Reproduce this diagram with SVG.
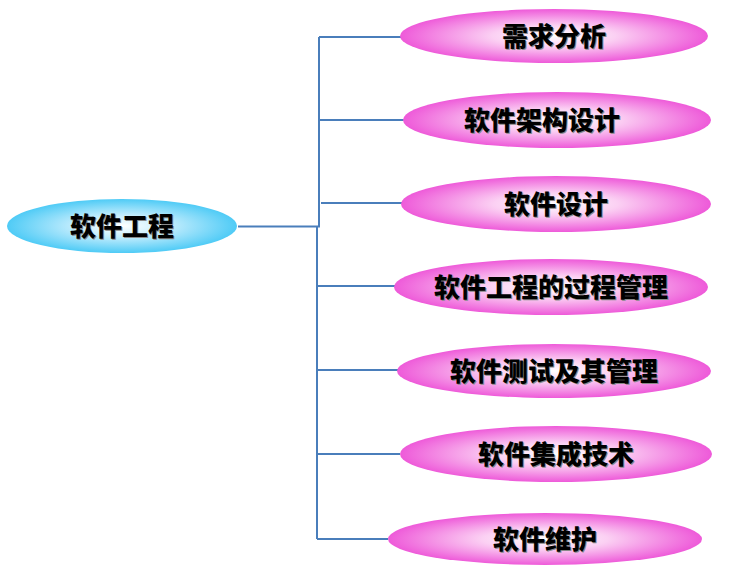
<svg xmlns="http://www.w3.org/2000/svg" width="753" height="571" viewBox="0 0 753 571">
<defs>
<radialGradient id="gp" cx="50%" cy="50%" r="50%">
<stop offset="0" stop-color="#ffffff"/>
<stop offset="0.4" stop-color="#fbd0f3"/>
<stop offset="1" stop-color="#ee5ad9"/>
</radialGradient>
<radialGradient id="gc" cx="50%" cy="50%" r="50%">
<stop offset="0" stop-color="#ffffff"/>
<stop offset="0.4" stop-color="#c4edfd"/>
<stop offset="1" stop-color="#4fcbf6"/>
</radialGradient>
<style>
.p{fill:url(#gp)}
.c{fill:url(#gc)}
.t,.s{font-family:"Noto Sans CJK SC","Noto Sans CJK JP",sans-serif;font-weight:900;font-size:26px;text-anchor:middle;dominant-baseline:central}
.t{fill:#000}
.s{fill:#8a8a8a}
.l{stroke:#4a7ebb;stroke-width:2;fill:none}
</style>
</defs>
<g id="connectors">
<path class="l" d="M238 226.5 H320"/>
<path class="l" d="M319 37 V226"/>
<path class="l" d="M317 227 V539" stroke-width="2.5"/>
<path class="l" d="M319 37 H402"/>
<path class="l" d="M319 120 H404"/>
<path class="l" d="M321 203 H402"/>
<path class="l" d="M317 286 H395"/>
<path class="l" d="M317 370 H398"/>
<path class="l" d="M317 454 H400"/>
<path class="l" d="M317 539 H388"/>
</g>
<g id="root">
<ellipse class="c" cx="122" cy="226" rx="115" ry="27"/>
<text class="s" x="123" y="225">软件工程</text>
<text class="t" x="122" y="224">软件工程</text>
</g>
<g id="n1">
<ellipse class="p" cx="554" cy="36" rx="154" ry="27"/>
<text class="s" x="555" y="35">需求分析</text>
<text class="t" x="554" y="34">需求分析</text>
</g>
<g id="n2">
<ellipse class="p" cx="557" cy="120" rx="154" ry="28"/>
<text class="s" x="543" y="119">软件架构设计</text>
<text class="t" x="542" y="118">软件架构设计</text>
</g>
<g id="n3">
<ellipse class="p" cx="556" cy="204" rx="155" ry="28"/>
<text class="s" x="557" y="203">软件设计</text>
<text class="t" x="556" y="202">软件设计</text>
</g>
<g id="n4">
<ellipse class="p" cx="551" cy="287" rx="157" ry="28"/>
<text class="s" x="552" y="286">软件工程的过程管理</text>
<text class="t" x="551" y="285">软件工程的过程管理</text>
</g>
<g id="n5">
<ellipse class="p" cx="554" cy="371" rx="157" ry="27"/>
<text class="s" x="555" y="370">软件测试及其管理</text>
<text class="t" x="554" y="369">软件测试及其管理</text>
</g>
<g id="n6">
<ellipse class="p" cx="556" cy="454" rx="156" ry="28"/>
<text class="s" x="557" y="453">软件集成技术</text>
<text class="t" x="556" y="452">软件集成技术</text>
</g>
<g id="n7">
<ellipse class="p" cx="545" cy="539" rx="157" ry="26"/>
<text class="s" x="546" y="538">软件维护</text>
<text class="t" x="545" y="537">软件维护</text>
</g>
</svg>
